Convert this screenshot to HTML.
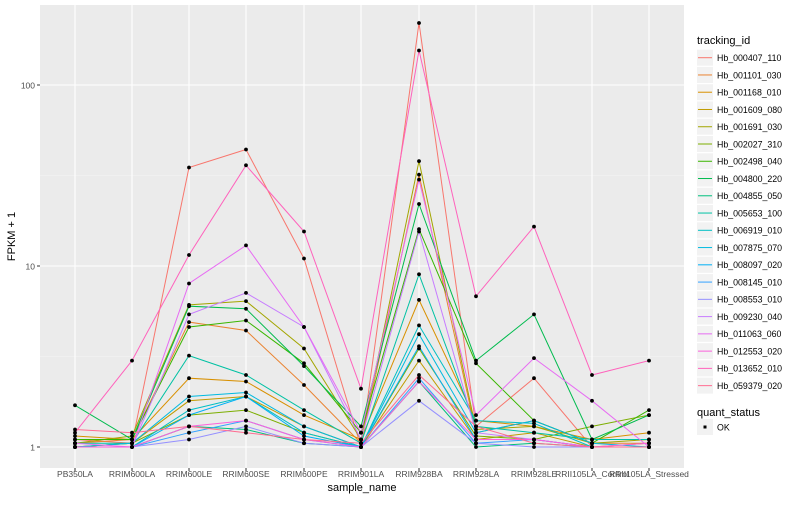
<!DOCTYPE html>
<html><head><meta charset="utf-8"><style>
body{margin:0;background:#fff;}
svg text{font-family:"Liberation Sans",sans-serif;}
</style></head><body>
<svg id="s" width="800" height="500" xmlns="http://www.w3.org/2000/svg"></svg>
<script>
const S=document.getElementById('s');
let h='';
const L=40,R=684,T=5,B=468;
h+=`<rect x="${L}" y="${T}" width="${R-L}" height="${B-T}" fill="#EBEBEB"/>`;
const Y=v=>447-181*Math.log10(v);
[Math.sqrt(10),Math.sqrt(1000)].forEach(v=>h+=`<line x1="${L}" x2="${R}" y1="${Y(v)}" y2="${Y(v)}" stroke="#F5F5F5" stroke-width="0.6"/>`);
[1,10,100].forEach(v=>{h+=`<line x1="${L}" x2="${R}" y1="${Y(v)}" y2="${Y(v)}" stroke="#fff" stroke-width="1.1"/>`;
h+=`<line x1="${L-3}" x2="${L}" y1="${Y(v)}" y2="${Y(v)}" stroke="#333"/>`;
h+=`<text x="${L-5}" y="${Y(v)+3.5}" font-size="8.5" fill="#4D4D4D" text-anchor="end">${v}</text>`;});
const X=[75,132,189,246,304,361,419,476,534,592,649];
const N=['PB350LA','RRIM600LA','RRIM600LE','RRIM600SE','RRIM600PE','RRIM901LA','RRIM928BA','RRIM928LA','RRIM928LE','RRII105LA_Control','RRII105LA_Stressed'];
X.forEach((x,i)=>{h+=`<line x1="${x}" x2="${x}" y1="${T}" y2="${B}" stroke="#fff" stroke-width="1.1"/>`;
h+=`<line x1="${x}" x2="${x}" y1="${B}" y2="${B+3}" stroke="#333"/>`;
h+=`<text x="${x}" y="${B+9}" font-size="8.5" fill="#4D4D4D" text-anchor="middle">${N[i]}</text>`;});
const C=['#F8766D','#EA8331','#D89000','#C09B00','#A3A500','#7CAE00','#39B600','#00BB4E','#00BF7D','#00C1A3','#00BFC4','#00BAE0','#00B0F6','#35A2FF','#9590FF','#C77CFF','#E76BF3','#FA62DB','#FF62BC','#FF6C91'];
const D=[
[1.1,1.05,35,44,11,1.0,220,1.3,2.4,1.0,1.0],
[1.05,1.1,4.9,4.4,2.2,1.05,32,1.2,1.4,1.05,1.05],
[1.15,1.1,2.4,2.3,1.5,1.1,6.5,1.4,1.3,1.1,1.2],
[1.0,1.05,1.8,1.9,1.3,1.0,3.0,1.1,1.2,1.0,1.05],
[1.05,1.15,6.1,6.4,3.5,1.1,38,1.25,1.3,1.05,1.1],
[1.0,1.05,1.5,1.6,1.2,1.0,3.5,1.15,1.1,1.3,1.5],
[1.1,1.1,4.6,5.0,2.9,1.2,16,2.9,1.4,1.05,1.6],
[1.7,1.1,6.0,5.8,2.8,1.3,22,3.0,5.4,1.1,1.5],
[1.0,1.0,1.3,1.25,1.05,1.0,2.3,1.0,1.05,1.0,1.0],
[1.05,1.05,3.2,2.5,1.6,1.05,9,1.3,1.2,1.1,1.1],
[1.0,1.0,1.6,1.9,1.2,1.0,4.7,1.4,1.35,1.0,1.0],
[1.0,1.05,1.9,2.0,1.3,1.0,4.2,1.2,1.4,1.05,1.0],
[1.0,1.0,1.5,1.9,1.15,1.0,3.6,1.1,1.1,1.0,1.0],
[1.0,1.0,1.2,1.4,1.1,1.0,2.4,1.05,1.1,1.0,1.0],
[1.0,1.0,1.1,1.3,1.05,1.0,1.8,1.05,1.0,1.0,1.0],
[1.0,1.0,5.4,7.1,4.6,1.1,15.5,1.2,1.1,1.0,1.0],
[1.05,1.0,8,13,4.6,1.2,30,1.5,3.1,1.8,1.0],
[1.0,1.0,1.3,1.4,1.1,1.0,2.3,1.1,1.1,1.0,1.05],
[1.2,3.0,11.5,36,15.5,2.1,155,6.8,16.5,2.5,3.0],
[1.25,1.2,1.3,1.2,1.1,1.05,2.5,1.3,1.05,1.0,1.0]];
D.forEach((d,i)=>{h+=`<polyline fill="none" stroke="${C[i]}" stroke-width="1" points="${d.map((v,j)=>X[j]+','+Y(v).toFixed(1)).join(' ')}"/>`;});
D.forEach(d=>d.forEach((v,j)=>h+=`<circle cx="${X[j]}" cy="${Y(v).toFixed(1)}" r="1.9" fill="#000"/>`));
h+=`<text x="${(L+R)/2}" y="491" font-size="11" fill="#000" text-anchor="middle">sample_name</text>`;
h+=`<text transform="translate(15,${(T+B)/2}) rotate(-90)" font-size="11" fill="#000" text-anchor="middle">FPKM + 1</text>`;
const ids=['Hb_000407_110','Hb_001101_030','Hb_001168_010','Hb_001609_080','Hb_001691_030','Hb_002027_310','Hb_002498_040','Hb_004800_220','Hb_004855_050','Hb_005653_100','Hb_006919_010','Hb_007875_070','Hb_008097_020','Hb_008145_010','Hb_008553_010','Hb_009230_040','Hb_011063_060','Hb_012553_020','Hb_013652_010','Hb_059379_020'];
h+=`<text x="697" y="44" font-size="11" fill="#000">tracking_id</text>`;
ids.forEach((t,i)=>{const cy=57.7+i*17.26;
h+=`<rect x="697" y="${cy-8}" width="16" height="16" fill="#F2F2F2"/>`;
h+=`<line x1="698" x2="712" y1="${cy}" y2="${cy}" stroke="${C[i]}" stroke-width="1"/>`;
h+=`<text x="717" y="${cy+3.3}" font-size="8.8" fill="#000">${t}</text>`;});
h+=`<text x="697" y="416" font-size="11" fill="#000">quant_status</text>`;
h+=`<rect x="697" y="419" width="16" height="16" fill="#F2F2F2"/><rect x="703.5" y="425.5" width="3" height="3" fill="#000"/>`;
h+=`<text x="717" y="430.3" font-size="8.8" fill="#000">OK</text>`;
S.innerHTML=h;
</script>
</body></html>
